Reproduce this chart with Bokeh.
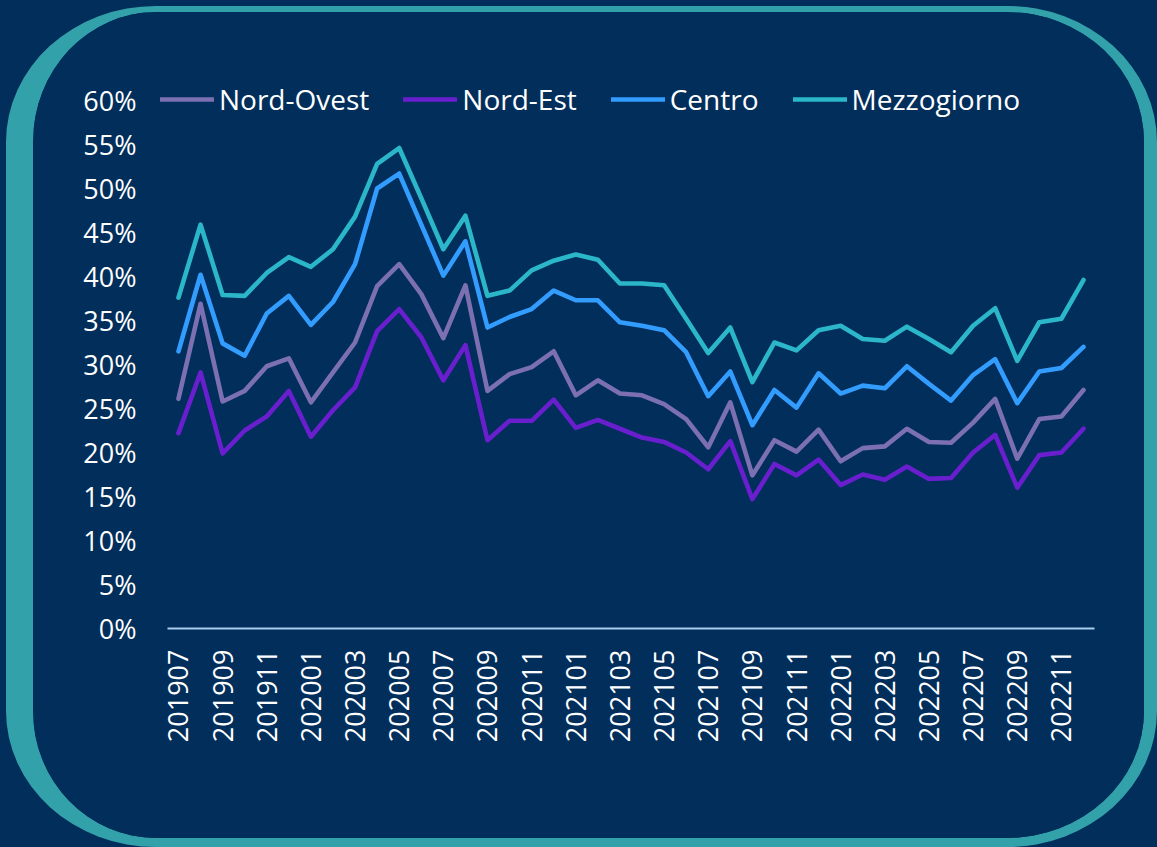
import math
from bokeh.plotting import figure
from bokeh.layouts import column
from bokeh.models import (Range1d, FixedTicker, PrintfTickFormatter,
                          Legend, LegendItem, ColumnDataSource)
from bokeh.embed import file_html
from bokeh.resources import INLINE

months = ["201907", "201908", "201909", "201910", "201911", "201912",
          "202001", "202002", "202003", "202004", "202005", "202006",
          "202007", "202008", "202009", "202010", "202011", "202012",
          "202101", "202102", "202103", "202104", "202105", "202106",
          "202107", "202108", "202109", "202110", "202111", "202112",
          "202201", "202202", "202203", "202204", "202205", "202206",
          "202207", "202208", "202209", "202210", "202211", "202212"]

nord_ovest = [26.1, 36.9, 25.8, 27.0, 29.8, 30.7, 25.7, 29.1, 32.5, 38.9, 41.4, 38.0,
              33.0, 39.0, 27.0, 28.9, 29.7, 31.5, 26.5, 28.2, 26.7, 26.5, 25.5, 23.8,
              20.6, 25.7, 17.4, 21.4, 20.1, 22.6, 19.0, 20.5, 20.7, 22.7, 21.2, 21.1,
              23.4, 26.1, 19.3, 23.8, 24.1, 27.1]
nord_est = [22.2, 29.1, 19.9, 22.5, 24.1, 27.0, 21.8, 24.8, 27.4, 33.8, 36.3, 33.1,
            28.2, 32.2, 21.4, 23.6, 23.6, 26.0, 22.8, 23.7, 22.7, 21.7, 21.2, 20.0,
            18.1, 21.3, 14.7, 18.7, 17.4, 19.2, 16.3, 17.5, 16.9, 18.4, 17.0, 17.1,
            20.0, 22.0, 16.0, 19.7, 20.0, 22.7]
centro = [31.5, 40.2, 32.4, 31.0, 35.8, 37.8, 34.5, 37.1, 41.4, 50.0, 51.7, 45.9,
          40.1, 44.0, 34.2, 35.4, 36.3, 38.4, 37.3, 37.3, 34.8, 34.4, 33.9, 31.4,
          26.4, 29.2, 23.1, 27.1, 25.1, 29.0, 26.7, 27.6, 27.3, 29.8, 27.8, 25.9,
          28.8, 30.6, 25.6, 29.2, 29.6, 32.0]
mezzogiorno = [37.6, 45.9, 37.9, 37.8, 40.4, 42.2, 41.1, 43.1, 46.8, 52.8, 54.6, 48.9,
               43.1, 46.9, 37.8, 38.4, 40.7, 41.8, 42.5, 41.9, 39.2, 39.2, 39.0, 35.2,
               31.3, 34.2, 28.0, 32.5, 31.6, 33.9, 34.4, 32.9, 32.7, 34.3, 32.9, 31.4,
               34.4, 36.4, 30.4, 34.8, 35.2, 39.6]

series_names = ["Nord-Ovest", "Nord-Est", "Centro", "Mezzogiorno"]
series_values = [nord_ovest, nord_est, centro, mezzogiorno]
series_colors = ["#7C70B3", "#6A1FCF", "#339CFF", "#2BB7C9"]
y_ticks = list(range(0, 61, 5))

NAVY = "#012E5B"
TEAL = "#33A1A9"
FONT = "Open Sans"

x_idx = list(range(len(months)))

# the CSS border (40px wide, 15px tall in total) is added to the frame by the layout
p = figure(frame_width=897, frame_height=535, output_backend="svg",
           toolbar_location=None,
           x_range=Range1d(-0.95, len(months) - 0.5), y_range=Range1d(0, 62.5),
           min_border_left=124, min_border_right=90, min_border_top=66,
           min_border_bottom=225)
p.border_fill_color = NAVY
p.background_fill_color = NAVY
p.outline_line_color = None
p.grid.visible = False
# rounded teal frame drawn by CSS around the canvas
p.styles = {
    "margin": "6px 0 0 6px",
    "border-style": "solid",
    "border-color": TEAL,
    "border-width": "6px 13px 9px 27px",
    "border-radius": "150px / 136px",
    "overflow": "hidden",
    "box-sizing": "content-box",
}

items = []
for name, vals, col in zip(series_names, series_values, series_colors):
    src = ColumnDataSource(dict(x=x_idx, y=vals))
    r = p.line("x", "y", source=src, line_color=col, line_width=4.6,
               line_join="round", line_cap="round")
    items.append(LegendItem(label=name, renderers=[r]))

# axes
xa = p.xaxis[0]
xa.bounds = (-0.5, len(months) - 0.5)
xa.ticker = FixedTicker(ticks=x_idx[::2])
xa.major_label_overrides = {i: months[i] for i in x_idx[::2]}
xa.major_label_orientation = math.pi / 2
xa.axis_line_color = "#A9CDEF"
xa.axis_line_width = 2
xa.major_tick_line_color = None
xa.minor_tick_line_color = None
xa.major_tick_out = 0
xa.major_label_standoff = 21
xa.major_label_text_font = FONT
xa.major_label_text_font_size = "27px"
xa.major_label_text_color = "#FFFFFF"

ya = p.yaxis[0]
ya.ticker = FixedTicker(ticks=y_ticks)
ya.formatter = PrintfTickFormatter(format="%d%%")
ya.axis_line_color = None
ya.major_tick_line_color = None
ya.minor_tick_line_color = None
ya.major_tick_out = 0
ya.major_label_standoff = 21
ya.major_label_text_font = FONT
ya.major_label_text_font_size = "27px"
ya.major_label_text_color = "#FFFFFF"

legend = Legend(items=items, orientation="horizontal", location=(3, 510),
                padding=0, margin=0, spacing=34, label_standoff=5,
                glyph_width=54, glyph_height=30, label_height=30,
                background_fill_alpha=0, border_line_color=None,
                label_text_font=FONT, label_text_font_size="28px",
                label_text_color="#FFFFFF")
p.add_layout(legend, "center")

layout = column(p, styles={"background-color": NAVY, "min-width": "1157px",
                           "min-height": "847px"})

open("out.html", "w").write(file_html(layout, INLINE))
